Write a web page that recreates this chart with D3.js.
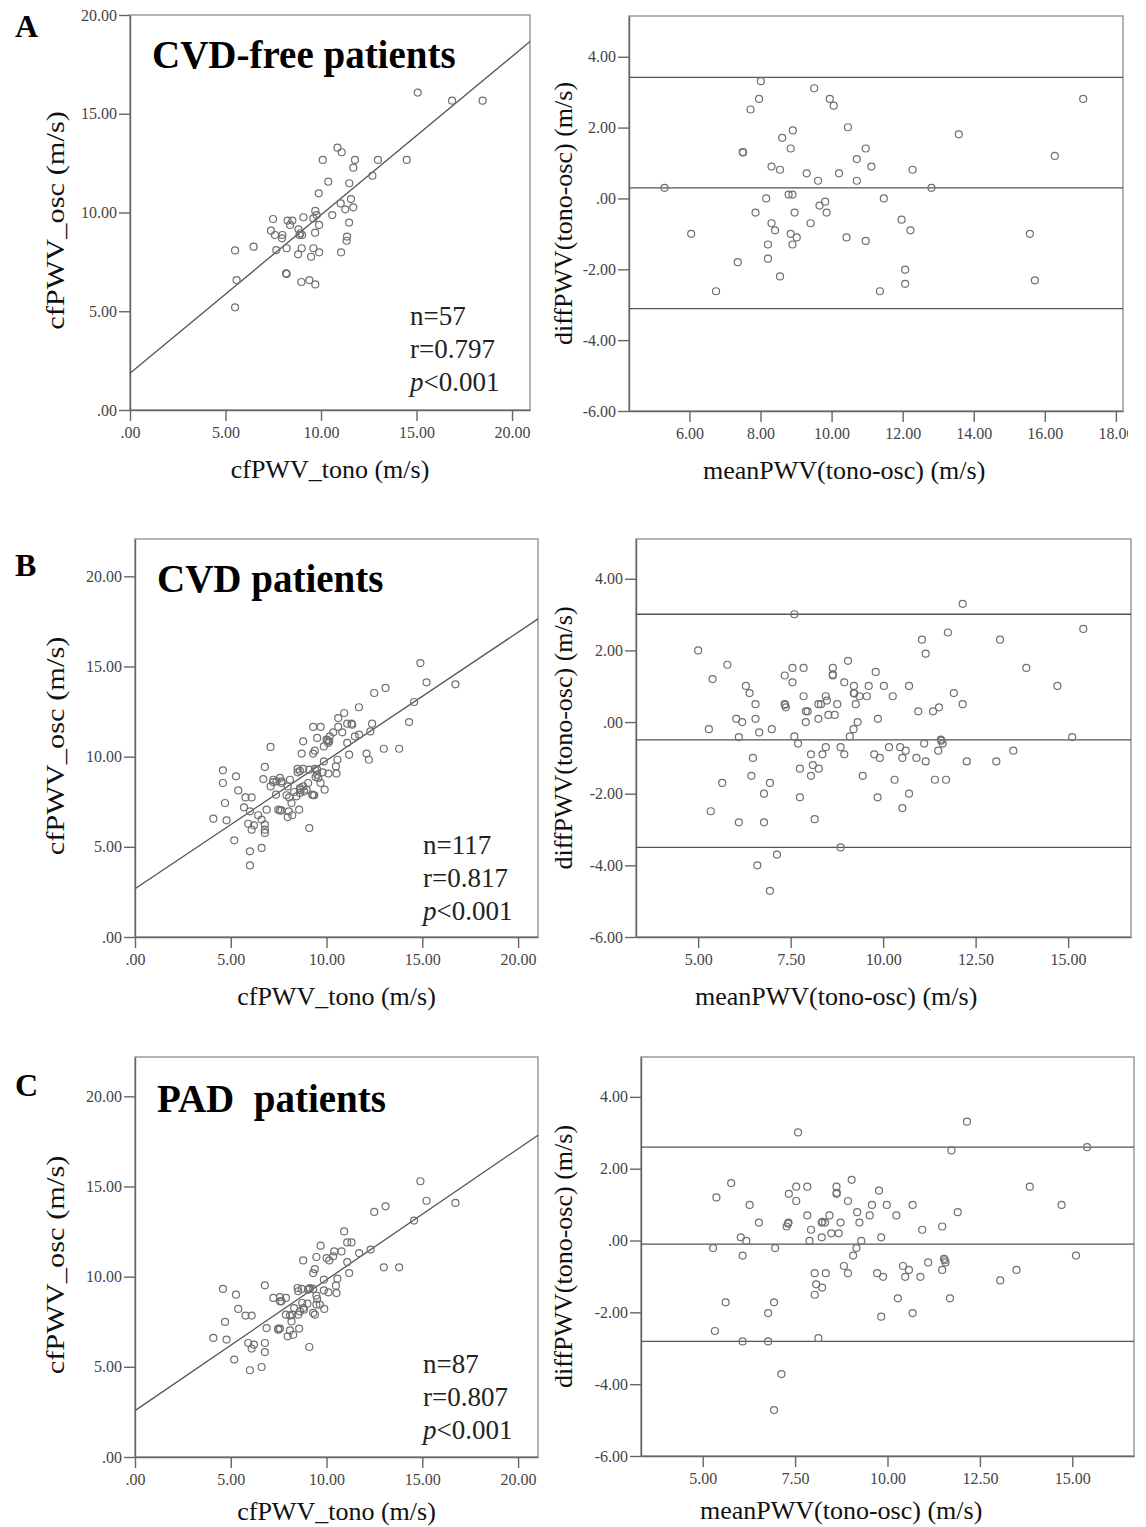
<!DOCTYPE html>
<html>
<head>
<meta charset="utf-8">
<style>
  body { margin: 0; background: #fff; }
  svg { font-family: "Liberation Serif", "Times New Roman", serif; }
  .tick text { font-size: 16px; fill: #444; }
  .axis path, .axis line { stroke: #666; stroke-width: 1.4; }
  .dot { fill: none; stroke: #707070; stroke-width: 1.2; }
  .fit { stroke: #555; stroke-width: 1.3; fill: none; }
  .frame { fill: none; stroke: #9a9a9a; stroke-width: 1.5; }
</style>
</head>
<body>
<div class="svg_container"></div>
<script src="https://cdnjs.cloudflare.com/ajax/libs/d3/7.8.5/d3.min.js"></script>
<script>
// ---- data ----
// A: CVD-free patients, cfPWV_tono vs cfPWV_osc
var scatterA = [[15.06,16.07],[16.86,15.66],[18.46,15.66],[10.86,13.28],[11.08,13.05],[10.09,12.66],[11.78,12.66],
  [12.98,12.66],[14.49,12.66],[11.69,12.27],[12.69,11.86],[10.38,11.56],[11.48,11.48],[9.88,10.97],[11.57,10.68],
  [11.03,10.46],[11.69,10.26],[11.27,10.16],[9.70,10.08],[9.77,9.87],[10.59,9.87],[9.08,9.76],[9.60,9.70],[7.49,9.67],
  [8.25,9.59],[8.50,9.59],[8.38,9.37],[9.90,9.37],[11.47,9.49],[7.38,9.08],[7.59,8.86],[7.98,8.86],[8.82,9.15],
  [8.87,8.86],[9.01,8.86],[7.96,8.69],[9.69,8.98],[11.36,8.78],[11.34,8.57],[5.50,8.08],[6.47,8.27],[7.66,8.10],
  [8.20,8.19],[8.99,8.19],[9.60,8.19],[8.80,7.88],[9.48,7.76],[9.90,7.98],[11.05,7.98],[5.58,6.58],[8.20,6.89],
  [8.17,6.92],[8.97,6.48],[9.39,6.58],[9.70,6.36],[5.50,5.20],[8.92,8.95]];
var fitA = [1.86, 0.802];
var statsA = ["n=57", "r=0.797", "0.001"];

var diffA = [[5.30,0.30],[6.05,-1.00],[6.75,-2.62],[7.36,-1.80],[7.50,1.31],[7.51,1.30],[7.72,2.51],[7.96,2.81],
  [8.01,3.31],[7.86,-0.40],[8.16,0.00],[8.21,-1.30],[8.21,-1.70],[8.31,0.90],[8.31,-0.70],[8.41,-0.90],[8.55,0.81],
  [8.55,-2.20],[8.61,1.71],[8.85,1.41],[8.91,1.92],[8.79,0.11],[8.90,0.11],[8.96,-0.40],[8.85,-1.00],[8.90,-1.30],
  [9.02,-1.10],[9.30,0.71],[9.41,-0.70],[9.51,3.11],[9.62,0.50],[9.66,-0.20],[9.82,-0.09],[9.86,-0.40],[9.95,2.81],
  [10.06,2.62],[10.21,0.71],[10.42,-1.10],[10.46,2.01],[10.71,1.11],[10.71,0.50],[10.96,1.41],[10.96,-1.20],
  [11.12,0.90],[11.36,-2.62],[11.47,0.00],[11.97,-0.60],[12.07,-2.01],[12.07,-2.41],[12.22,-0.90],[12.28,0.81],
  [12.81,0.30],[13.58,1.81],[15.58,-1.00],[15.72,-2.31],[16.28,1.20],[17.08,2.81]];
var limitsA = [3.42, 0.30, -3.11];

// B: CVD patients
var scatterB = [[14.90,15.19],[15.22,14.12],[16.73,14.01],[12.49,13.53],[13.08,13.81],[14.57,13.03],[11.69,12.74],
  [14.31,11.92],[12.38,11.83],[12.29,11.40],[12.99,10.44],[13.79,10.44],[12.09,10.17],[12.21,9.83],[11.18,10.11],
  [11.08,10.76],[7.08,10.54],[4.59,9.24],[4.59,8.54],[4.09,6.56],[4.78,6.47],[4.70,7.43],[5.27,8.91],[5.39,8.13],
  [5.18,5.36],[6.00,4.75],[6.00,3.97],[6.61,4.94],[9.10,6.04],[6.78,9.43],
  [9.30,11.65],[9.69,11.65],[10.61,12.14],[10.92,12.42],[10.61,11.65],[11.08,11.83],[11.30,11.83],[10.82,11.35],
  [10.35,11.35],[8.78,10.85],[9.51,11.04],[10.00,10.94],[10.14,10.85],[10.17,11.13],[11.48,11.13],[11.70,11.22],
  [8.70,10.17],[9.39,10.33],[9.30,10.17],[9.86,10.57],[10.09,10.76],[9.86,9.74],[10.57,9.83],
  [8.49,9.32],[8.78,9.32],[9.10,9.28],[9.39,9.32],[8.49,9.13],[9.51,9.00],[9.79,9.13],[10.10,9.06],[10.49,9.46],
  [10.52,9.06],[6.70,8.76],[7.22,8.72],[7.57,8.82],[7.39,8.63],[7.65,8.63],[8.09,8.72],[9.04,8.54],
  [7.08,8.35],[8.61,8.26],[8.78,8.35],[8.96,8.17],[9.69,8.54],[9.57,8.82],[9.90,8.17],[7.65,8.54],[7.97,8.35],
  [8.31,8.04],[8.61,7.99],[8.83,8.08],[7.36,7.89],[7.91,7.86],[8.05,7.74],[9.25,7.89],[9.36,7.86],[5.77,7.74],[6.09,7.74],
  [5.69,7.19],[6.00,6.97],[6.87,7.06],[7.48,7.06],[7.57,7.02],[8.17,7.43],[8.03,6.97],[8.57,7.06],[8.21,6.75],
  [7.97,6.65],[6.43,6.75],[6.61,6.51],[5.91,6.28],[6.21,6.19],[6.09,5.95],[6.78,6.23],[6.78,5.95],[6.78,5.77],
  [7.65,7.02],[11.34,11.77],[8.64,8.17],[9.43,8.87],[10.05,10.90],[9.30,7.86],[8.61,9.21],[7.22,8.59],[8.43,7.80],[9.51,9.28]];
var fitB = [2.68, 0.711];
var statsB = ["n=117", "r=0.817", "0.001"];

var diffB = [[5.00,2.00],[5.29,-0.20],[5.34,-2.49],[5.39,1.20],[5.65,-1.70],[5.79,1.60],[6.03,0.09],[6.10,-0.42],
  [6.10,-2.80],[6.19,0.00],[6.29,1.01],[6.39,0.81],[6.48,-1.00],[6.44,-1.50],[6.55,0.50],[6.55,0.09],[6.60,-4.00],
  [6.65,-0.29],[6.78,-2.00],[6.78,-2.80],[6.94,-1.70],[6.94,-4.71],[6.99,-0.20],[7.13,-3.70],[7.34,1.30],[7.34,0.50],
  [7.37,0.41],[7.55,1.51],[7.55,1.11],[7.60,3.01],[7.60,-0.40],[7.70,-0.60],[7.75,-1.30],[7.75,-2.10],[7.85,1.51],
  [7.85,0.72],[7.91,0.30],[7.91,0.00],[7.96,0.30],[8.05,-0.90],[8.05,-1.50],[8.10,-1.20],[8.15,-2.71],[8.25,0.50],
  [8.25,0.09],[8.26,-1.30],[8.32,0.50],[8.36,-0.90],[8.45,0.72],[8.45,-0.70],[8.48,0.60],[8.52,0.20],[8.64,1.51],
  [8.64,1.30],[8.69,0.20],[8.76,0.50],[8.85,-3.50],[8.85,-0.70],[8.95,1.11],[8.95,-0.90],[9.05,1.71],[9.10,-0.40],
  [9.21,1.01],[9.21,0.81],[9.20,-0.20],[9.26,0.50],[9.31,0.00],[9.36,0.72],[9.45,-1.50],[9.56,0.72],[9.61,1.01],
  [9.76,-0.90],[9.80,1.40],[9.85,-2.10],[9.86,0.09],[9.91,-1.00],[10.02,1.01],[10.16,-0.70],[10.26,0.72],[10.31,-1.61],
  [10.46,-0.70],[10.52,-1.00],[10.52,-2.40],[10.61,-0.80],[10.70,-2.00],[10.70,1.01],[10.90,-1.00],[10.95,0.30],
  [11.05,2.30],[11.11,-0.60],[11.15,1.91],[11.15,-1.10],[11.35,0.30],[11.40,-1.61],[11.49,-0.80],[11.51,0.41],
  [11.56,-0.49],[11.61,-0.60],[11.70,-1.61],[11.75,2.50],[11.91,0.81],[12.15,3.30],[12.15,0.50],[12.26,-1.10],
  [13.06,-1.10],[13.16,2.30],[13.52,-0.80],[13.87,1.51],[14.71,1.01],[15.11,-0.42],[15.41,2.60],
  [7.35,0.48],[8.64,1.33],[11.57,-0.52],[9.22,0.80]];
var limitsB = [3.01, -0.50, -3.50];

// C: PAD patients
var scatterC = [[14.90,15.29],[15.22,14.21],[16.73,14.09],[12.49,13.59],[13.08,13.90],[14.57,13.11],[10.92,12.51],
  [11.08,11.90],[11.30,11.90],[9.69,11.72],[9.47,11.09],[8.78,10.90],[10.00,11.03],[10.14,10.90],[10.40,11.40],
  [10.78,11.40],[11.70,11.31],[12.30,11.50],[11.08,10.81],[11.18,10.20],[12.99,10.52],[13.79,10.52],[9.30,10.20],
  [9.39,10.42],[9.86,9.83],[10.57,9.89],[6.78,9.52],[4.59,9.32],[5.27,9.00],[5.39,8.21],[5.77,7.84],[6.09,7.84],
  [4.70,7.49],[4.09,6.60],[4.78,6.51],[5.91,6.32],[6.21,6.23],[6.09,6.01],[6.78,6.32],[6.78,5.82],[5.18,5.40],
  [6.00,4.81],[6.61,4.99],[9.10,6.10],
  [8.49,9.37],[8.70,9.32],[9.10,9.32],[9.30,9.32],[9.47,8.95],[9.86,9.24],[10.10,9.13],[10.49,9.50],[10.52,9.09],
  [9.88,8.21],[9.47,8.45],[9.30,7.99],[9.39,7.89],[9.00,8.50],[8.78,8.26],[8.61,8.08],[8.31,8.26],[8.21,7.89],
  [8.09,7.84],[7.88,7.89],[8.17,7.52],[7.22,8.82],[7.57,8.87],[7.88,8.82],[7.57,8.63],[6.87,7.15],[7.48,7.12],
  [7.57,7.12],[8.57,7.12],[8.09,7.02],[8.26,6.78],[7.97,6.69],[8.73,8.54],[9.13,9.37],
  [8.52,9.19],[8.82,8.17],[9.51,8.76],[7.65,8.63],[8.52,7.89],[7.48,7.06],[9.04,9.28],[10.35,11.13],[9.65,8.45]];
var fitC = [2.57, 0.726];
var statsC = ["n=87", "r=0.807", "0.001"];

var diffC = [[5.28,-0.21],[5.33,-2.52],[5.37,1.20],[5.62,-1.72],[5.77,1.60],[6.03,0.09],[6.08,-0.42],[6.08,-2.81],
  [6.18,-0.01],[6.27,0.99],[6.52,0.50],[6.77,-2.02],[6.77,-2.81],[6.93,-1.72],[6.93,-4.72],[6.96,-0.21],[7.13,-3.72],
  [7.27,0.39],[7.32,0.50],[7.33,1.30],[7.53,1.50],[7.53,1.10],[7.58,3.01],[7.83,1.50],[7.83,0.70],[7.89,-0.01],
  [7.93,0.30],[8.03,-0.91],[8.03,-1.51],[8.07,-1.22],[8.13,-2.72],[8.22,0.09],[8.22,0.50],[8.23,-1.31],[8.31,0.50],
  [8.33,-0.91],[8.43,0.70],[8.48,0.20],[8.62,1.50],[8.62,1.30],[8.68,0.20],[8.73,0.50],[8.93,1.10],[8.82,-0.71],
  [8.93,-0.91],[9.03,1.69],[9.07,-0.42],[9.16,-0.21],[9.18,0.79],[9.24,0.50],[9.29,-0.01],[9.52,0.70],[9.58,0.99],
  [9.72,-0.91],[9.77,1.39],[9.83,-2.12],[9.83,0.09],[9.88,-1.01],[9.98,0.99],[10.24,0.70],[10.28,-1.61],[10.42,-0.71],
  [10.48,-1.01],[10.58,-0.82],[10.68,0.99],[10.68,-2.02],[10.89,-1.01],[10.94,0.30],[11.10,-0.61],[11.48,0.39],
  [11.48,-0.82],[11.53,-0.51],[11.57,-0.61],[11.69,-1.61],[11.73,2.51],[11.90,0.79],[12.15,3.31],[13.05,-1.11],
  [13.49,-0.82],[13.85,1.50],[14.71,0.99],[15.10,-0.42],[15.40,2.60],[8.63,1.33],[7.31,0.47],[8.24,0.52],[11.55,-0.55]];
var limitsC = [2.60, -0.10, -2.81];

// tick values
var ticksScatter = [0, 5, 10, 15, 20];
var ticksDiffY = [-6, -4, -2, 0, 2, 4];
var ticksMeanA = [6, 8, 10, 12, 14, 16, 18];
var ticksMeanBC = [5, 7.5, 10, 12.5, 15];

var fmt = function(v) { return v === 0 ? ".00" : v.toFixed(2); };

var svg = d3.select(".svg_container").append("svg")
  .attr("width", 1146)
  .attr("height", 1527);

// one scatter / Bland-Altman frame
function drawPanel(p) {
  var x = d3.scaleLinear().domain(p.xd).range([p.x0, p.x1]);
  var y = d3.scaleLinear().domain(p.yd).range([p.y1, p.y0]);
  var g = svg.append("g");

  g.append("rect").attr("class", "frame")
    .attr("x", p.x0).attr("y", p.y0)
    .attr("width", p.x1 - p.x0).attr("height", p.y1 - p.y0);

  var xa = g.append("g").attr("class", "axis")
    .attr("transform", "translate(0," + p.y1 + ")")
    .call(d3.axisBottom(x).tickValues(p.xt).tickFormat(fmt).tickSize(11).tickSizeOuter(0).tickPadding(6))
    .attr("font-family", null).attr("font-size", null);
  if (p.clipX) {
    // the source image is cut just after the last tick label
    var id = "clip" + Math.round(p.y0);
    svg.append("clipPath").attr("id", id).append("rect")
      .attr("x", 0).attr("y", -5).attr("width", p.clipX).attr("height", 60);
    xa.attr("clip-path", "url(#" + id + ")");
  }

  g.append("g").attr("class", "axis")
    .attr("transform", "translate(" + p.x0 + ",0)")
    .call(d3.axisLeft(y).tickValues(p.yt).tickFormat(fmt).tickSize(11).tickSizeOuter(0).tickPadding(2))
    .attr("font-family", null).attr("font-size", null);

  // fit line or limit lines
  if (p.fit) {
    g.append("line").attr("class", "fit")
      .attr("x1", x(p.xd[0])).attr("y1", y(p.fit[0] + p.fit[1] * p.xd[0]))
      .attr("x2", x(p.xd[1])).attr("y2", y(p.fit[0] + p.fit[1] * p.xd[1]));
  }
  if (p.limits) {
    g.selectAll(".lim").data(p.limits).enter().append("line")
      .attr("class", "fit")
      .attr("x1", p.x0).attr("x2", p.x1)
      .attr("y1", function(d) { return y(d); })
      .attr("y2", function(d) { return y(d); });
  }

  g.selectAll(".dot").data(p.pts).enter().append("circle")
    .attr("class", "dot")
    .attr("cx", function(d) { return x(d[0]); })
    .attr("cy", function(d) { return y(d[1]); })
    .attr("r", 3.5);

  // axis titles
  g.append("text")
    .attr("x", p.xtx).attr("y", p.y1 + p.xty)
    .attr("text-anchor", p.xtAnchor)
    .attr("font-size", 26).attr("fill", "#111")
    .text(p.xTitle);
  g.append("text")
    .attr("transform", "translate(" + p.ytx + "," + ((p.y0 + p.y1) / 2 + p.ytdy) + ") rotate(-90) scale(" + p.ysx + ",1)")
    .attr("text-anchor", "middle")
    .attr("font-size", 26).attr("fill", "#111")
    .text(p.yTitle);
}

var rows = [
  { top: 15, bot: 410, rtop: 16, rbot: 411, lx0: 130, lx1: 530, lxd: [0, 20.94], lyd: [0, 20],
    rx0: 629, rx1: 1123, rxd: [4.30, 18.20], ryd: [-6, 5.15], rxt: ticksMeanA, clipX: 1128, xty: 68,
    scatter: scatterA, fit: fitA, diff: diffA, limits: limitsA, stats: statsA,
    letter: "A", letterY: 37, title: "CVD-free patients", titleY: 68, titleX: 152, statsX: 410, statsY: 325, rtx: 703 },
  { top: 539, bot: 937, rtop: 539, rbot: 937, lx0: 135, lx1: 538, lxd: [0, 21.04], lyd: [0, 22.07],
    rx0: 636, rx1: 1131, rxd: [3.32, 16.70], ryd: [-6, 5.11], rxt: ticksMeanBC, xty: 68,
    scatter: scatterB, fit: fitB, diff: diffB, limits: limitsB, stats: statsB,
    letter: "B", letterY: 576, title: "CVD patients", titleY: 592, titleX: 157, statsX: 423, statsY: 854, rtx: 695 },
  { top: 1057, bot: 1457, rtop: 1057, rbot: 1456, lx0: 135, lx1: 538, lxd: [0, 21.04], lyd: [0, 22.18],
    rx0: 641, rx1: 1134, rxd: [3.33, 16.67], ryd: [-6, 5.11], rxt: ticksMeanBC, xty: 63,
    scatter: scatterC, fit: fitC, diff: diffC, limits: limitsC, stats: statsC,
    letter: "C", letterY: 1096, title: "PAD\u00a0 patients", titleY: 1112, titleX: 157, statsX: 423, statsY: 1373, rtx: 700 }
];

rows.forEach(function(r) {
  drawPanel({ x0: r.lx0, x1: r.lx1, y0: r.top, y1: r.bot, xd: r.lxd, yd: r.lyd,
    xt: ticksScatter, yt: ticksScatter, pts: r.scatter, fit: r.fit, xty: r.xty,
    xTitle: "cfPWV_tono (m/s)", xtx: (r.lx0 + r.lx1) / 2, xtAnchor: "middle",
    yTitle: "cfPWV_osc (m/s)", ytx: 64, ytdy: 8, ysx: 1.17 });
  drawPanel({ x0: r.rx0, x1: r.rx1, y0: r.rtop, y1: r.rbot, xd: r.rxd, yd: r.ryd,
    xt: r.rxt, yt: ticksDiffY, pts: r.diff, limits: r.limits, clipX: r.clipX, xty: r.xty,
    xTitle: "meanPWV(tono-osc) (m/s)", xtx: r.rtx, xtAnchor: "start",
    yTitle: "diffPWV(tono-osc) (m/s)", ytx: 572, ytdy: 0, ysx: 1 });

  svg.append("text").attr("x", 15).attr("y", r.letterY)
    .attr("font-size", 32).attr("font-weight", "bold").text(r.letter);
  svg.append("text").attr("x", r.titleX).attr("y", r.titleY)
    .attr("font-size", 39).attr("font-weight", "bold").text(r.title);

  var st = svg.append("g").attr("font-size", 27).attr("fill", "#222");
  st.append("text").attr("x", r.statsX).attr("y", r.statsY).text(r.stats[0]);
  st.append("text").attr("x", r.statsX).attr("y", r.statsY + 33).text(r.stats[1]);
  var pt = st.append("text").attr("x", r.statsX).attr("y", r.statsY + 66);
  pt.append("tspan").attr("font-style", "italic").text("p");
  pt.append("tspan").text("<" + r.stats[2]);
});
</script>
</body>
</html>
